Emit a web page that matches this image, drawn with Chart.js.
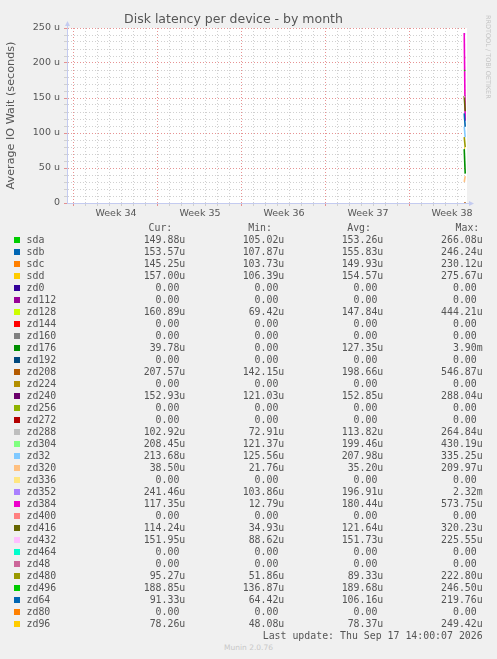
<!DOCTYPE html>
<html>
<head>
<meta charset="utf-8">
<title>Disk latency per device - by month</title>
<script src="https://cdn.jsdelivr.net/npm/chart.js@4.4.1/dist/chart.umd.min.js"></script>
<style>
  html, body { margin: 0; padding: 0; background: #f0f0f0; }
  body { width: 497px; height: 659px; position: relative; overflow: hidden;
         font-family: "DejaVu Sans Mono", monospace; font-size: 9.9px; color: #555; }
  #chartBox { position: absolute; left: 0; top: 0; width: 497px; height: 230px; }
  .txt { position: absolute; white-space: pre; line-height: 12px; }
  .num { text-align: right; width: 120px; }
  .swatch { position: absolute; width: 6px; height: 6px; }
  #rrd { position: absolute; left: 484px; top: 15px; writing-mode: vertical-rl;
         font-family: "DejaVu Sans"; font-size: 6.5px; line-height: 8px; color: #c4c4c4; }
  #munin { position: absolute; left: 0; width: 497px; top: 643px; text-align: center;
           font-family: "DejaVu Sans"; font-size: 7.5px; line-height: 10px; color: #c8c8c8; }
</style>
</head>
<body>
<div id="chartBox"><canvas id="latencyChart"></canvas></div>
<div id="rrd">RRDTOOL / TOBI OETIKER</div>
<div id="legend"></div>
<div id="munin">Munin 2.0.76</div>

<script>
// devices, in the order munin lists them
const names = ["sda", "sdb", "sdc", "sdd", "zd0", "zd112", "zd128", "zd144", "zd160", "zd176",
  "zd192", "zd208", "zd224", "zd240", "zd256", "zd272", "zd288", "zd304", "zd32", "zd320",
  "zd336", "zd352", "zd384", "zd400", "zd416", "zd432", "zd464", "zd48", "zd480", "zd496",
  "zd64", "zd80", "zd96"];

const colors = ["#00CC00", "#0066B3", "#FF8000", "#FFCC00", "#330099", "#990099", "#CCFF00",
  "#FF0000", "#808080", "#008F00", "#00487D", "#B35A00", "#B38F00", "#6B006B", "#8FB300",
  "#B30000", "#BEBEBE", "#80FF80", "#80C9FF", "#FFC080", "#FFE680", "#AA80FF", "#EE00CC",
  "#FF8080", "#666600", "#FFBFFF", "#00FFCC", "#CC6699", "#999900", "#00CC00", "#0066B3",
  "#FF8000", "#FFCC00"];

// legend figures, in microseconds
const curVals = [149.88, 153.57, 145.25, 157.00, 0, 0, 160.89, 0, 0, 39.78, 0, 207.57, 0, 152.93,
  0, 0, 102.92, 208.45, 213.68, 38.50, 0, 241.46, 117.35, 0, 114.24, 151.95, 0, 0, 95.27, 188.85,
  91.33, 0, 78.26];
const minVals = [105.02, 107.87, 103.73, 106.39, 0, 0, 69.42, 0, 0, 0, 0, 142.15, 0, 121.03,
  0, 0, 72.91, 121.37, 125.56, 21.76, 0, 103.86, 12.79, 0, 34.93, 88.62, 0, 0, 51.86, 136.87,
  64.42, 0, 48.08];
const avgVals = [153.26, 155.83, 149.93, 154.57, 0, 0, 147.84, 0, 0, 127.35, 0, 198.66, 0, 152.85,
  0, 0, 113.82, 199.46, 207.98, 35.20, 0, 196.91, 180.44, 0, 121.64, 151.73, 0, 0, 89.33, 189.68,
  106.16, 0, 78.37];
const maxVals = [266.08, 246.24, 230.12, 275.67, 0, 0, 444.21, 0, 0, 3900, 0, 546.87, 0, 288.04,
  0, 0, 264.84, 430.19, 335.25, 209.97, 0, 2320, 573.75, 0, 320.23, 225.55, 0, 0, 222.80, 246.50,
  219.76, 0, 249.42];

// the two samples drawn at the right edge (µs)
const lineStart = [149.88, 153.57, 145.25, 157.00, 0, 0, 160.89, 0, 0, 77, 0, 207.57, 0, 152.93,
  0, 0, 102.92, 208.45, 109, 30, 0, 241.46, 243, 0, 153, 152, 0, 0, 94, 190, 128, 0, 79];
const lineEnd = [149.88, 153.57, 145.25, 157.00, 0, 0, 160.89, 0, 0, 42, 0, 207.57, 0, 152.93,
  0, 0, 102.92, 208.45, 94, 38.5, 0, 241.46, 117.35, 0, 131, 151.95, 0, 0, 80, 188.85, 109, 0, 78.26];

// time axis in days since Sun 9 Aug 2026
const sampleDays = [39.52, 39.60];
const xStart = 6.42;
const xEnd = 39.75;
const weekStarts = [7, 14, 21, 28, 35];
const weekLabels = ["Week 34", "Week 35", "Week 36", "Week 37", "Week 38"];

const yMax = 250;
const lastUpdate = "Last update: Thu Sep 17 14:00:07 2026";

const weekMids = weekStarts.map(d => d + 3.5);
const dayTicks = [];
for (let d = Math.ceil(xStart); d <= Math.floor(xEnd); d++) dayTicks.push(d);
const xTicks = dayTicks.concat(weekMids).sort((a, b) => a - b);

const axisColor = "#c4cbf0";
const majorGrid = "rgba(225,120,120,0.8)";
const minorGrid = "#d0d0d0";

function fmt(v) {
    if (v === 0) return "0.00 ";
    if (v >= 1000) return (v / 1000).toFixed(2) + "m";
    return v.toFixed(2) + "u";
}

// ---- legend table ----
function buildLegend() {
    const box = document.getElementById("legend");
    const colsRight = [185.3, 284.3, 383.3, 482.7];
    const headRight = [172.3, 272, 371, 479.3];
    const heads = ["Cur:", "Min:", "Avg:", "Max:"];
    let html = "";
    heads.forEach((h, c) => {
        html += `<div class="txt num" style="left:${headRight[c] - 120}px;top:222px">${h}</div>`;
    });
    names.forEach((name, i) => {
        const top = 234 + 12 * i;
        html += `<div class="swatch" style="left:14px;top:${237 + 12 * i}px;background:${colors[i]}"></div>`;
        html += `<div class="txt" style="left:26.5px;top:${top}px">${name}</div>`;
        [curVals, minVals, avgVals, maxVals].forEach((arr, c) => {
            html += `<div class="txt num" style="left:${colsRight[c] - 120}px;top:${top}px">${fmt(arr[i])}</div>`;
        });
    });
    html += `<div class="txt num" style="left:${482.7 - 300}px;width:300px;top:${234 + 12 * names.length}px">${lastUpdate}</div>`;
    box.innerHTML = html;
}
buildLegend();

// ---- chart ----
const plotBackground = {
    id: "plotBackground",
    beforeDraw(chart) {
        const { ctx, chartArea: a } = chart;
        ctx.save();
        ctx.fillStyle = "#ffffff";
        ctx.fillRect(a.left, a.top, a.right - a.left, a.bottom - a.top);
        ctx.restore();
    }
};

const axisArrows = {
    id: "axisArrows",
    afterDraw(chart) {
        const { ctx, chartArea: a } = chart;
        const x0 = Math.round(a.left) + 0.5;
        const y0 = Math.round(a.bottom) + 0.5;
        ctx.save();
        ctx.strokeStyle = axisColor;
        ctx.fillStyle = axisColor;
        ctx.lineWidth = 1;
        ctx.beginPath();
        ctx.moveTo(x0, a.top); ctx.lineTo(x0, a.top - 3);
        ctx.moveTo(a.right, y0); ctx.lineTo(a.right + 3, y0);
        ctx.stroke();
        ctx.beginPath();
        ctx.moveTo(x0 - 2.5, a.top - 2); ctx.lineTo(x0 + 2.5, a.top - 2); ctx.lineTo(x0, a.top - 7);
        ctx.closePath(); ctx.fill();
        ctx.beginPath();
        ctx.moveTo(a.right + 2, y0 - 2.5); ctx.lineTo(a.right + 2, y0 + 2.5); ctx.lineTo(a.right + 7, y0);
        ctx.closePath(); ctx.fill();
        ctx.restore();
    }
};

Chart.defaults.font.family = "DejaVu Sans";
Chart.defaults.color = "#555";

const datasets = names.map((name, i) => ({
    label: name,
    data: sampleDays.map((d, k) => ({ x: d, y: (k === 0 ? lineStart[i] : lineEnd[i]) })),
    borderColor: colors[i],
    borderWidth: 1.6,
    pointRadius: 0,
    fill: false,
    tension: 0,
    order: -i
}));

new Chart(document.getElementById("latencyChart"), {
    type: "line",
    data: { datasets },
    plugins: [plotBackground, axisArrows],
    options: {
        responsive: true,
        maintainAspectRatio: false,
        animation: false,
        events: [],
        layout: { padding: { left: 0, right: 30, top: 0, bottom: 0 } },
        plugins: {
            legend: { display: false },
            tooltip: { enabled: false },
            title: {
                display: true,
                text: "Disk latency per device - by month",
                color: "#555",
                font: { size: 12.5, weight: "normal" },
                padding: { top: 12, bottom: 1 }
            }
        },
        scales: {
            x: {
                type: "linear",
                min: xStart,
                max: xEnd,
                afterBuildTicks: axis => { axis.ticks = xTicks.map(v => ({ value: v })); },
                afterFit: scale => { scale.height = 27; },
                grid: {
                    color: c => weekMids.includes(c.tick.value) ? "rgba(0,0,0,0)"
                        : (weekStarts.includes(c.tick.value) ? majorGrid : minorGrid),
                    tickColor: c => weekMids.includes(c.tick.value) ? "rgba(0,0,0,0)"
                        : (weekStarts.includes(c.tick.value) ? majorGrid : minorGrid),
                    tickLength: 3,
                    lineWidth: 1
                },
                border: { color: axisColor, dash: [1, 2] },
                ticks: {
                    autoSkip: false,
                    maxRotation: 0,
                    padding: 2,
                    font: { size: 9.5 },
                    color: "#555",
                    callback: v => {
                        const k = weekMids.indexOf(v);
                        return k >= 0 ? weekLabels[k] : "";
                    }
                }
            },
            y: {
                min: 0,
                max: yMax,
                afterBuildTicks: axis => {
                    const t = [];
                    for (let v = 0; v <= yMax; v += 10) t.push({ value: v });
                    axis.ticks = t;
                },
                afterFit: scale => { scale.width = 67; },
                grid: {
                    color: c => c.tick.value % 50 === 0 ? majorGrid : minorGrid,
                    tickColor: c => c.tick.value % 50 === 0 ? majorGrid : minorGrid,
                    tickLength: 3,
                    lineWidth: 1
                },
                border: { color: axisColor, dash: [1, 2] },
                title: {
                    display: true,
                    text: "Average IO Wait (seconds)",
                    color: "#555",
                    font: { size: 11.2 },
                    padding: { top: 4, bottom: 0 }
                },
                ticks: {
                    autoSkip: false,
                    padding: 4,
                    font: { size: 9.5 },
                    color: "#555",
                    callback: v => v % 50 === 0 ? (v === 0 ? "0" : v + " u") : ""
                }
            }
        }
    }
});
</script>
</body>
</html>
